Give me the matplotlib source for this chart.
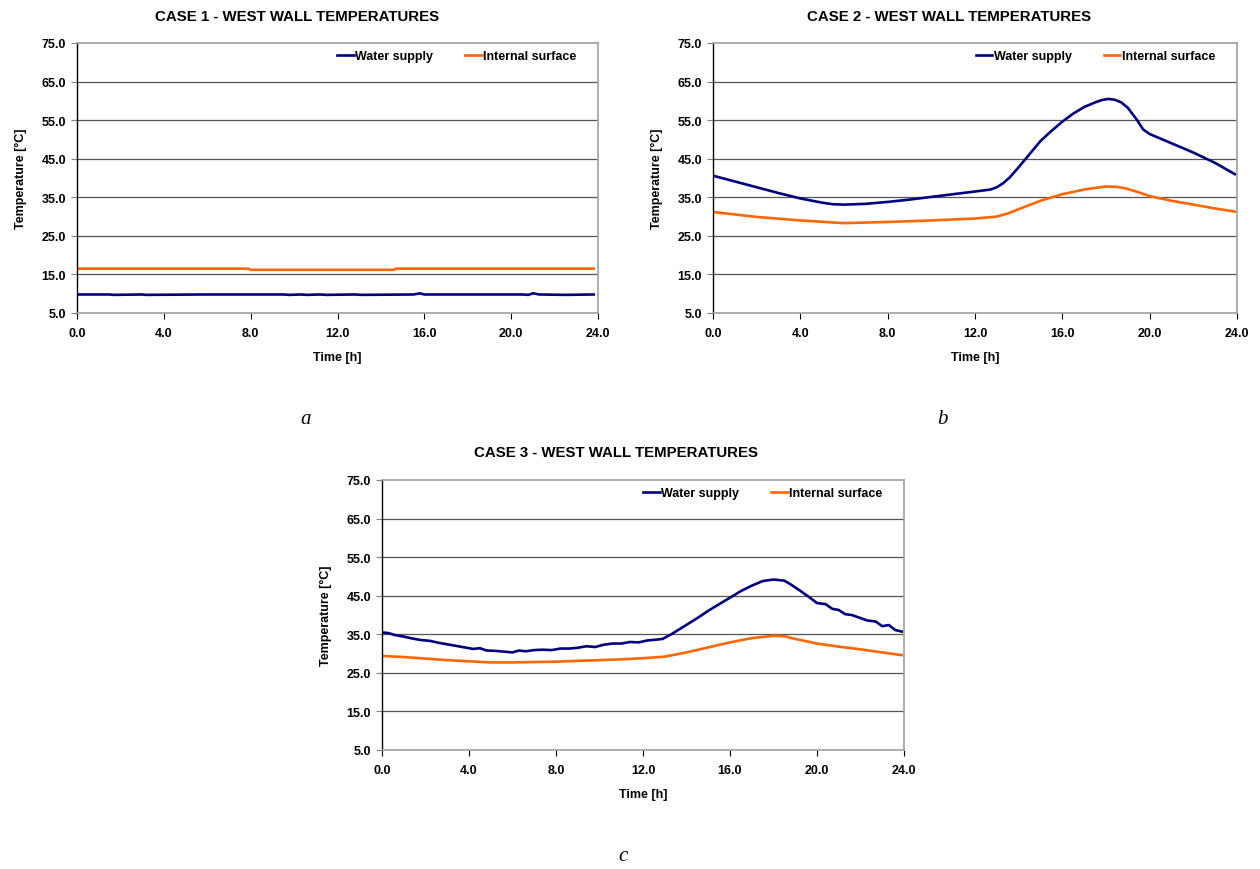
"""
West wall temperatures for the three cases: water supply vs internal surface.
"""

import matplotlib
matplotlib.use("Agg")
import matplotlib.pyplot as plt
from matplotlib.ticker import FormatStrFormatter

plt.rcParams["font.family"] = ["Liberation Sans", "DejaVu Sans"]
plt.rcParams["font.weight"] = "bold"

# ---- data ----
TITLES = ["CASE 1 - WEST WALL TEMPERATURES",
          "CASE 2 - WEST WALL TEMPERATURES",
          "CASE 3 - WEST WALL TEMPERATURES"]
PANEL_TAGS = ["a", "b", "c"]
SERIES_NAMES = ["Water supply", "Internal surface"]
X_TICKS = [0.0, 4.0, 8.0, 12.0, 16.0, 20.0, 24.0]
Y_TICKS = [5.0, 15.0, 25.0, 35.0, 45.0, 55.0, 65.0, 75.0]

# case 1
c1_water_t = [0.0, 1.5, 1.7, 3.0, 3.2, 5.8, 6.0, 9.5, 9.8, 10.3, 10.6, 11.2, 11.5,
              12.8, 13.1, 15.5, 15.8, 16.0, 20.5, 20.8, 21.0, 21.3, 22.5, 23.8]
c1_water = [9.8, 9.8, 9.7, 9.8, 9.7, 9.8, 9.8, 9.8, 9.7, 9.8, 9.7, 9.8, 9.7,
            9.8, 9.7, 9.8, 10.1, 9.8, 9.8, 9.7, 10.1, 9.8, 9.7, 9.8]
c1_surf_t = [0.0, 7.9, 8.0, 14.6, 14.7, 23.8]
c1_surf = [16.5, 16.5, 16.2, 16.2, 16.5, 16.5]

# case 2
c2_water_t = [0.0, 1.0, 2.0, 3.0, 4.0, 5.0, 5.5, 6.0, 7.0, 8.0, 9.0, 10.0, 11.0,
              12.0, 12.7, 13.0, 13.3, 13.6, 14.0, 14.5, 15.0, 15.5, 16.0, 16.5,
              17.0, 17.5, 17.8, 18.1, 18.4, 18.7, 19.0, 19.4, 19.7, 20.0, 21.0,
              22.0, 23.0, 23.9]
c2_water = [40.6, 39.1, 37.6, 36.1, 34.7, 33.6, 33.2, 33.1, 33.3, 33.8, 34.4, 35.1, 35.8,
            36.5, 37.0, 37.6, 38.7, 40.2, 42.8, 46.2, 49.6, 52.2, 54.6, 56.7,
            58.4, 59.6, 60.2, 60.5, 60.3, 59.6, 58.2, 55.2, 52.6, 51.4, 49.0,
            46.6, 43.9, 41.0]
c2_surf_t = [0.0, 2.0, 4.0, 6.0, 8.0, 10.0, 12.0, 13.0, 13.5, 14.0, 15.0, 16.0, 17.0,
             17.6, 18.0, 18.5, 18.9, 19.5, 20.0, 21.0, 22.0, 23.0, 23.9]
c2_surf = [31.2, 29.9, 29.0, 28.3, 28.6, 29.0, 29.5, 30.0, 30.8, 31.9, 34.1, 35.8, 37.0,
           37.5, 37.8, 37.7, 37.3, 36.3, 35.3, 34.1, 33.1, 32.1, 31.3]

# case 3 (water supply reading is jagged)
c3_water_t = [0.0, 0.3, 0.6, 1.0, 1.4, 1.8, 2.2, 2.6, 3.0, 3.4, 3.8, 4.2, 4.5, 4.8,
              5.2, 5.6, 6.0, 6.3, 6.6, 7.0, 7.4, 7.8, 8.2, 8.6, 9.0, 9.4, 9.8,
              10.2, 10.6, 11.0, 11.4, 11.8, 12.2, 12.6, 12.9, 13.3, 13.7, 14.1,
              14.5, 15.0, 15.5, 16.0, 16.5, 17.0, 17.5, 18.0, 18.5, 18.8, 19.2,
              19.6, 20.0, 20.4, 20.7, 21.0, 21.3, 21.6, 22.0, 22.3, 22.7, 23.0,
              23.3, 23.6, 23.9]
c3_water = [35.5, 35.3, 34.8, 34.4, 33.9, 33.5, 33.3, 32.8, 32.4, 32.0, 31.6, 31.2, 31.4,
            30.8, 30.7, 30.5, 30.3, 30.8, 30.6, 30.9, 31.0, 30.9, 31.3, 31.3, 31.5, 31.9, 31.7,
            32.3, 32.6, 32.6, 33.0, 32.9, 33.4, 33.6, 33.8, 35.0, 36.4, 37.8,
            39.2, 41.1, 42.8, 44.5, 46.2, 47.6, 48.8, 49.2, 48.9, 47.9, 46.4,
            44.8, 43.1, 42.8, 41.6, 41.3, 40.2, 40.0, 39.2, 38.6, 38.3, 37.1,
            37.4, 36.1, 35.7]
c3_surf_t = [0.0, 1.0, 2.0, 3.0, 4.0, 5.0, 6.0, 7.0, 8.0, 9.0, 10.0, 11.0, 12.0,
             13.0, 14.0, 15.0, 16.0, 17.0, 18.0, 18.5, 19.0, 20.0, 21.0, 22.0,
             23.0, 23.9]
c3_surf = [29.4, 29.1, 28.7, 28.3, 28.0, 27.7, 27.7, 27.8, 27.9, 28.1, 28.3, 28.5, 28.8,
           29.2, 30.3, 31.6, 32.9, 34.0, 34.6, 34.5, 33.8, 32.6, 31.8, 31.1,
           30.3, 29.6]

WATER_COLOR = "#000080"
SURF_COLOR = "#FF6600"


def draw_panel(ax, title_xy, title, tag, tag_xy, water, surf):
    ax.plot(water[0], water[1], color=WATER_COLOR, lw=1.9, label=SERIES_NAMES[0],
            solid_joinstyle="round")
    ax.plot(surf[0], surf[1], color=SURF_COLOR, lw=1.9, label=SERIES_NAMES[1],
            solid_joinstyle="round")

    ax.set_xlim(X_TICKS[0], X_TICKS[-1])
    ax.set_ylim(Y_TICKS[0], Y_TICKS[-1])
    ax.set_xticks(X_TICKS)
    ax.set_yticks(Y_TICKS)
    ax.xaxis.set_major_formatter(FormatStrFormatter("%.1f"))
    ax.yaxis.set_major_formatter(FormatStrFormatter("%.1f"))
    ax.tick_params(axis="x", length=4, width=0.8, color="black", pad=6, labelsize=9)
    ax.tick_params(axis="y", length=4, width=0.8, color="#808080", pad=4, labelsize=9)

    for y in Y_TICKS[1:-1]:
        ax.axhline(y, color="#555555", lw=0.9, zorder=0)
    ax.spines["left"].set_color("black")
    ax.spines["left"].set_linewidth(1.0)
    for side in ("top", "right", "bottom"):
        ax.spines[side].set_color("#a0a0a0")
        ax.spines[side].set_linewidth(1.2)

    ax.set_xlabel("Time [h]", fontsize=9, fontweight="bold", labelpad=9)
    ax.set_ylabel("Temperature [\u00b0C]", fontsize=9, fontweight="bold", labelpad=10)

    ax.legend(loc="center right", bbox_to_anchor=(0.958, 0.952), ncol=2, frameon=False,
              fontsize=9, handlelength=1.3, handletextpad=0.1, columnspacing=2.6,
              borderpad=0, borderaxespad=0)

    fig = ax.figure
    fig.text(title_xy[0], title_xy[1], title, ha="center", va="center",
             fontsize=10.8, fontweight="bold")
    fig.text(tag_xy[0], tag_xy[1], tag, ha="center", va="center", fontsize=15,
             family="Liberation Serif", style="italic", fontweight="normal")


fig = plt.figure(figsize=(12.6, 8.7), dpi=100)
W, H = 1260.0, 870.0

ax_a = fig.add_axes([77 / W, 1 - 314 / H, 521 / W, 270 / H])
ax_b = fig.add_axes([713 / W, 1 - 314 / H, 524 / W, 270 / H])
ax_c = fig.add_axes([382 / W, 1 - 751 / H, 522 / W, 270 / H])

draw_panel(ax_a, (297 / W, 1 - 17 / H), TITLES[0], PANEL_TAGS[0],
           (306 / W, 1 - 420 / H), (c1_water_t, c1_water), (c1_surf_t, c1_surf))
draw_panel(ax_b, (949 / W, 1 - 17 / H), TITLES[1], PANEL_TAGS[1],
           (942 / W, 1 - 420 / H), (c2_water_t, c2_water), (c2_surf_t, c2_surf))
draw_panel(ax_c, (616 / W, 1 - 453 / H), TITLES[2], PANEL_TAGS[2],
           (623 / W, 1 - 857 / H), (c3_water_t, c3_water), (c3_surf_t, c3_surf))

fig.savefig("out.png", dpi=100)
